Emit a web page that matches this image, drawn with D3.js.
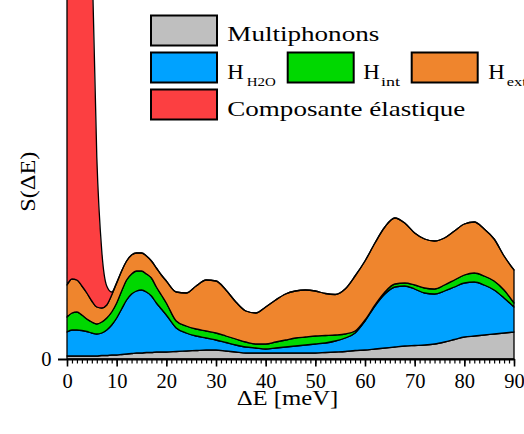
<!DOCTYPE html>
<html>
<head>
<meta charset="utf-8">
<script src="https://cdn.jsdelivr.net/npm/d3@7"></script>
</head>
<body style="margin:0; background:#ffffff">
<script>

// energy transfer points (meV)
var energy = [0, 1, 2, 3, 4, 5, 6, 7, 8, 9, 10, 11, 12, 13, 14, 15, 16, 17, 18, 19, 20,
	22, 24, 26, 28, 30, 32, 34, 36, 38, 40, 42, 44, 46, 48, 50, 52, 54, 56, 58, 60,
	62, 64, 66, 68, 70, 72, 74, 76, 78, 80, 82, 84, 86, 88, 90];

// contribution of each component (arbitrary units, stacked bottom to top)
var multiphonons = [3, 3, 3, 3, 3, 3, 3, 3.5, 3.5, 4, 4, 4.5, 5, 5.5, 6, 6, 6.5, 6.5, 7, 7, 7,
	7.5, 8, 8.5, 9, 9, 8, 7, 6, 6, 6, 6, 6, 6, 6, 6, 6.5, 7, 7.5, 8.5, 9,
	10, 11, 12, 13, 13.5, 14, 15, 17, 19.5, 22, 23, 24, 25, 26, 27];
var hH2O = [24, 26, 26, 25.5, 24.5, 23, 22, 22.5, 25.5, 30, 37, 45.5, 54, 59.5, 62, 63, 60.5, 56.5, 49, 43, 37,
	23.5, 18, 14.5, 12, 10, 8.5, 7, 6, 5, 4, 5, 6, 7, 8, 9, 9.5, 11, 13.5, 17.5, 29,
	43, 54, 60, 60, 56.5, 52, 50, 51, 52.5, 54, 54, 50, 44, 35, 25];
var hInt = [15, 17, 18, 15.5, 12.5, 11, 10, 11, 12, 13, 15, 18, 20, 20, 20, 19, 18, 18, 16, 14, 12,
	7, 7, 7, 7, 7, 6.5, 6, 5, 4, 5, 6, 7, 8, 8, 8, 7.5, 6, 4, 2, 1,
	1, 2, 3, 3, 4, 5, 5, 6, 7, 8, 9, 9, 9, 8, 4];
var hExt = [32, 34, 32, 29, 26, 21, 17, 14, 13, 17, 20, 20, 19, 19, 18, 18, 18, 17, 19, 20, 22,
	29, 33, 43, 51, 52, 46, 37, 31, 31, 37, 42, 46, 47, 47, 45, 42, 40.5, 45, 55, 59,
	62, 65, 66, 60, 52, 49, 48, 47, 49, 51, 51, 47, 42, 34, 33];
var elastic = [2300, 2130, 1700, 1165, 690, 350, 150, 57, 19, 3, 0.5, 0, 0, 0, 0, 0, 0, 0, 0, 0, 0,
	0, 0, 0, 0, 0, 0, 0, 0, 0, 0, 0, 0, 0, 0, 0, 0, 0, 0, 0, 0,
	0, 0, 0, 0, 0, 0, 0, 0, 0, 0, 0, 0, 0, 0, 0];

// component names, colours and tick labels
var components = ["multiphonons", "hH2O", "hInt", "hExt", "elastic"];
var colours = ["#bfbfbf", "#00a2ff", "#00d800", "#ef852d", "#fc3f41"];
var xTicks = [0, 10, 20, 30, 40, 50, 60, 70, 80, 90];

var svgSpectrum;

// put the series together in rows so d3.stack can use them
function getStackData() {
	var rows = [];
	for (var i = 0; i < energy.length; i ++) {
		rows.push({
			energy: energy[i],
			multiphonons: multiphonons[i],
			hH2O: hH2O[i],
			hInt: hInt[i],
			hExt: hExt[i],
			elastic: elastic[i]
		});
	};
	return rows;
};

function drawSpectrum() {

	var width = 524;
	var height = 434;
	var margin = {left: 67, right: 10, top: 0, baseline: 359};

	svgSpectrum = d3.select("body")
		.append("svg")
		.attr("width", width)
		.attr("height", height);

	var scaleX = d3.scaleLinear()
		.domain([0, 90])
		.range([margin.left, 514]);
	var scaleY = d3.scaleLinear()
		.domain([0, margin.baseline])
		.range([margin.baseline, 0]);

	var series = d3.stack().keys(components)(getStackData());

	var area = d3.area()
		.x(function(d) { return scaleX(d.data.energy); })
		.y0(function(d) { return scaleY(d[0]); })
		.y1(function(d) { return scaleY(d[1]); })
		.curve(d3.curveMonotoneX);

	// stacked areas
	svgSpectrum.append("g")
		.selectAll("path")
		.data(series)
		.enter()
		.append("path")
		.attr("d", area)
		.style("fill", function(d, i) { return colours[i]; })
		.style("stroke", "#000000")
		.style("stroke-width", 1.3)
		.style("stroke-linejoin", "round");

	// minor ticks every meV
	var minorAxis = d3.axisBottom(scaleX)
		.tickValues(d3.range(0, 91, 1))
		.tickSize(4.5)
		.tickFormat("");
	svgSpectrum.append("g")
		.attr("transform", "translate(0," + margin.baseline + ")")
		.call(minorAxis)
		.call(function(g) { g.select(".domain").remove(); })
		.selectAll("line")
		.style("stroke", "#000000")
		.style("stroke-width", 1.2);

	// major ticks with labels
	var xAxis = d3.axisBottom(scaleX)
		.tickValues(xTicks)
		.tickSize(7.5)
		.tickSizeOuter(0);
	var gx = svgSpectrum.append("g")
		.attr("transform", "translate(0," + margin.baseline + ")")
		.call(xAxis)
		.attr("font-family", "Liberation Serif");
	gx.select(".domain").style("stroke", "#000000").style("stroke-width", 2);
	gx.selectAll("line").style("stroke", "#000000").style("stroke-width", 1.6);
	gx.selectAll("text")
		.attr("y", 29)
		.attr("dy", 0)
		.style("fill", "#000000")
		.style("font-size", "20.5px")
		.style("font-family", "'Liberation Serif'");

	// y axis only shows the zero tick
	var yAxis = d3.axisLeft(scaleY)
		.tickValues([0])
		.tickSize(9);
	var gy = svgSpectrum.append("g")
		.attr("transform", "translate(" + margin.left + ",0)")
		.call(yAxis)
		.attr("font-family", "Liberation Serif");
	gy.select(".domain").remove();
	gy.selectAll("line").style("stroke", "#000000").style("stroke-width", 2);
	gy.selectAll("text")
		.attr("x", -15.5)
		.attr("dy", "0.32em")
		.style("fill", "#000000")
		.style("font-size", "20.5px")
		.style("font-family", "'Liberation Serif'");

	// axis labels
	svgSpectrum.append("text")
		.attr("x", 236.7)
		.attr("y", 404.5)
		.attr("textLength", 101.6)
		.attr("lengthAdjust", "spacingAndGlyphs")
		.style("font-size", "21px")
		.style("font-family", "'Liberation Serif'")
		.text("ΔE [meV]");
	svgSpectrum.append("text")
		.attr("transform", "translate(35,211.7) rotate(-90)")
		.attr("textLength", 60)
		.attr("lengthAdjust", "spacingAndGlyphs")
		.style("font-size", "21px")
		.style("font-family", "'Liberation Serif'")
		.text("S(ΔE)");

	addLegend();
};

// legend with boxes and labels
function addLegend() {

	var boxes = [
		{x: 151, y: 15.5, colour: colours[0]},
		{x: 151, y: 52.5, colour: colours[1]},
		{x: 287.7, y: 52.5, colour: colours[2]},
		{x: 411.7, y: 52.5, colour: colours[3]},
		{x: 151, y: 89.5, colour: colours[4]}
	];

	svgSpectrum.selectAll("rect.legend")
		.data(boxes)
		.enter()
		.append("rect")
		.attr("class", "legend")
		.attr("x", function(d) { return d.x; })
		.attr("y", function(d) { return d.y; })
		.attr("width", 66)
		.attr("height", 30)
		.style("fill", function(d) { return d.colour; })
		.style("stroke", "#000000")
		.style("stroke-width", 2);

	var labels = [
		{x: 227.3, y: 41, text: "Multiphonons", size: 22, length: 152},
		{x: 227.3, y: 115.5, text: "Composante élastique", size: 22, length: 238},
		{x: 227.3, y: 78.5, text: "H", size: 22, length: 16.5},
		{x: 246.7, y: 85.7, text: "H2O", size: 12, length: 29},
		{x: 363.3, y: 78.5, text: "H", size: 22, length: 16.5},
		{x: 381, y: 85.7, text: "int", size: 13, length: 19},
		{x: 488.3, y: 78.5, text: "H", size: 22, length: 16.5},
		{x: 506.7, y: 85.7, text: "ext", size: 13, length: 20}
	];

	svgSpectrum.selectAll("text.legend")
		.data(labels)
		.enter()
		.append("text")
		.attr("class", "legend")
		.attr("x", function(d) { return d.x; })
		.attr("y", function(d) { return d.y; })
		.attr("textLength", function(d) { return d.length; })
		.attr("lengthAdjust", "spacingAndGlyphs")
		.style("fill", "#000000")
		.style("font-size", function(d) { return d.size + "px"; })
		.style("font-family", "'Liberation Serif'")
		.text(function(d) { return d.text; });
};

drawSpectrum();
</script>
</body>
</html>
